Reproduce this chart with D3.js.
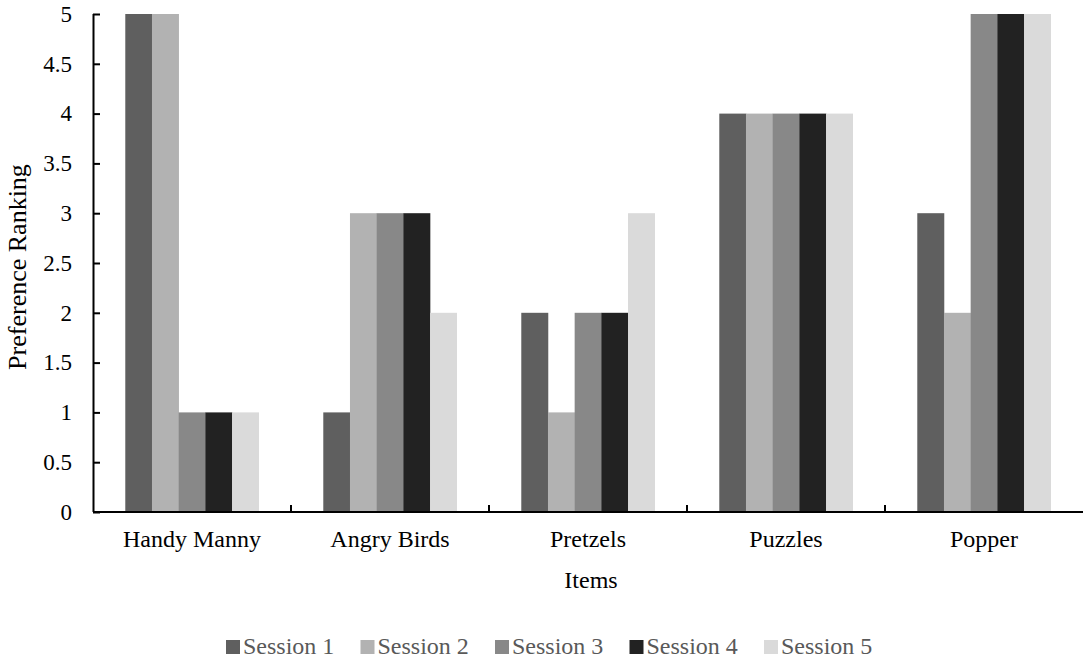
<!DOCTYPE html>
<html><head><meta charset="utf-8">
<script src="https://cdn.jsdelivr.net/npm/d3@7"></script>
<style>body{margin:0;background:#fff}svg{display:block}</style>
</head><body><svg id="c" width="1085" height="662"></svg>
<script>
const categories = ["Handy Manny","Angry Birds","Pretzels","Puzzles","Popper"];
const seriesNames = ["Session 1","Session 2","Session 3","Session 4","Session 5"];
const session1 = [5,1,2,4,3];
const session2 = [5,3,1,4,2];
const session3 = [1,3,2,4,5];
const session4 = [1,3,2,4,5];
const session5 = [1,2,3,4,5];
const yTicks = [0,0.5,1,1.5,2,2.5,3,3.5,4,4.5,5];
const colors = ["#5f5f5f","#b2b2b2","#888888","#222222","#dadada"];

const FONT = "Liberation Serif";
const series = [session1,session2,session3,session4,session5];
const svg = d3.select("#c");
const L = 93, R = 1083, T = 14, B = 512;
const x = d3.scaleBand().domain(categories).range([L,R]).paddingInner(0).paddingOuter(0);
const x1 = d3.scaleBand().domain(seriesNames).range([0,x.bandwidth()]).paddingOuter(1.21).paddingInner(0);
const y = d3.scaleLinear().domain([0,5]).range([B,T]);

const g = svg.append("g");
categories.forEach((c,ci)=>{
  seriesNames.forEach((s,si)=>{
    g.append("rect").attr("x",x(c)+x1(s)).attr("y",y(series[si][ci]))
      .attr("width",x1.bandwidth()+0.3).attr("height",y(0)-y(series[si][ci]))
      .attr("fill",colors[si]);
  });
});

const yAxis = svg.append("g").attr("transform",`translate(${L},0)`)
  .call(d3.axisRight(y).tickValues(yTicks).tickSize(7).tickFormat(d3.format("")));
yAxis.select(".domain").attr("stroke","#000").attr("stroke-width",2).attr("d",`M0.5,${T}V${B}`);
yAxis.selectAll(".tick line").attr("stroke","#000").attr("stroke-width",2);
yAxis.selectAll(".tick text").attr("x",-21).attr("text-anchor","end").style("font-family",FONT).style("font-size","23px").attr("fill","#000");

const xAxis = svg.append("g").attr("transform",`translate(0,${B})`)
  .call(d3.axisBottom(x).tickSize(0));
xAxis.select(".domain").attr("stroke","#000").attr("stroke-width",2).attr("d",`M${L},0H${R}`);
xAxis.selectAll(".tick text").attr("y",35).attr("dy",null).style("font-family",FONT).style("font-size","24px").attr("fill","#000");
categories.slice(1).forEach(c=>{
  svg.append("line").attr("x1",x(c)).attr("x2",x(c)).attr("y1",B).attr("y2",B-7).attr("stroke","#000").attr("stroke-width",2);
});

svg.append("text").attr("transform",`translate(26,267) rotate(-90)`).attr("text-anchor","middle")
  .style("font-family",FONT).style("font-size","26px").attr("fill","#000").text("Preference Ranking");
svg.append("text").attr("x",591).attr("y",588).attr("text-anchor","middle")
  .style("font-family",FONT).style("font-size","24px").attr("fill","#000").text("Items");

const lg = svg.append("g");
seriesNames.forEach((s,i)=>{
  const lx = 226 + i*134.5;
  lg.append("rect").attr("x",lx).attr("y",640).attr("width",14).attr("height",14).attr("fill",colors[i]);
  lg.append("text").attr("x",lx+17).attr("y",654).style("font-family",FONT).style("font-size","24px").attr("fill","#595959").text(s);
});
</script></body></html>
